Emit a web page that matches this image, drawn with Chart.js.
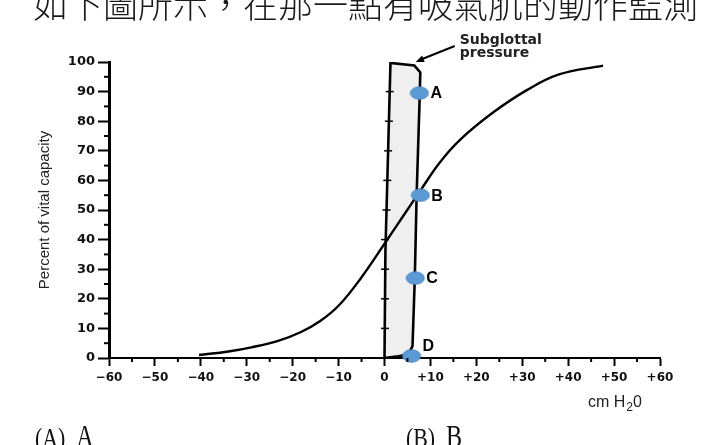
<!DOCTYPE html>
<html>
<head>
<meta charset="utf-8">
<script src="https://cdn.jsdelivr.net/npm/chart.js@4.4.0/dist/chart.umd.min.js"></script>
<style>
  html, body { margin: 0; padding: 0; background: #fff; }
  #wrap { position: relative; width: 707px; height: 445px; overflow: hidden; }
  #chart { position: absolute; left: 0; top: 0; }
  .question {
    position: absolute; left: 33px; top: -15px;
    font-family: "Noto Sans CJK TC", sans-serif; font-weight: 200;
    font-size: 35px; line-height: 35px; color: #1a1a1a; white-space: nowrap;
  }
  .option {
    position: absolute; top: 423px;
    font-family: "Liberation Serif", serif; font-size: 28px; line-height: 28px;
    color: #111; white-space: pre; transform: scaleX(0.78); transform-origin: 0 0;
  }
  .option span { font-size: 31px; margin-left: 14px; }
</style>
</head>
<body>
<div id="wrap">
  <canvas id="chart" width="707" height="445"></canvas>
  <div class="question">如下圖所示，在那一點有吸氣肌的動作監測</div>
  <div class="option" style="left:35px">(A)<span>A</span></div>
  <div class="option" style="left:406px">(B)<span>B</span></div>
</div>
<script>
// tick labels
const xTickLabels = ['−60', '−50', '−40', '−30', '−20', '−10', '0', '+10', '+20', '+30', '+40', '+50', '+60'];
const yTickLabels = ['0', '10', '20', '30', '40', '50', '60', '70', '80', '90', '100'];

// relaxation pressure curve (percent of vital capacity vs cm H2O)
const curveX = [-40.4, -34, -29, -23, -18.3, -14, -9.8, -5, 0, 4, 8, 12, 16.5, 23.7, 31, 38, 47.6];
const curveY = [1, 2.2, 3.6, 5.9, 8.7, 12.5, 18, 27.3, 38.6, 47.8, 57, 66, 73.8, 83, 90.5, 95.8, 98.8];

// subglottal pressure band outline
const bandX = [0, 0.2, 1.3, 6.5, 7.8, 7.6, 7.0, 6.6, 6.1, 5.2, 3, 0];
const bandY = [0, 36, 99.7, 98.8, 96.5, 85, 55, 27, 4, 1.2, 0.6, 0];

// marked points
const pointLabels = ['A', 'B', 'C', 'D'];
const pointX = [7.6, 7.8, 6.7, 5.9];
const pointY = [89.5, 55, 27, 0.7];

function toXY(xs, ys) {
    return xs.map((x, i) => ({ x: x, y: ys[i] }));
}

// blue ellipse marker
const dot = document.createElement('canvas');
dot.width = 20;
dot.height = 14;
const dctx = dot.getContext('2d');
dctx.beginPath();
dctx.ellipse(10, 7, 9, 6.2, 0, 0, Math.PI * 2);
dctx.fillStyle = '#5b9bd5';
dctx.fill();
dctx.lineWidth = 1;
dctx.strokeStyle = '#4a86c0';
dctx.stroke();

// minor ticks, marks on the zero line, point letters, notes and axis titles
const extras = {
    id: 'extras',
    afterDraw(chart) {
        const ctx = chart.ctx;
        const xs = chart.scales.x;
        const ys = chart.scales.y;
        const area = chart.chartArea;
        ctx.save();
        ctx.strokeStyle = '#000';
        ctx.lineWidth = 2;

        // minor ticks
        for (let v = -55; v < 60; v += 10) {
            const px = xs.getPixelForValue(v);
            ctx.beginPath();
            ctx.moveTo(px, area.bottom);
            ctx.lineTo(px, area.bottom + 4);
            ctx.stroke();
        }
        for (let v = 5; v < 100; v += 10) {
            const py = ys.getPixelForValue(v);
            ctx.beginPath();
            ctx.moveTo(area.left, py);
            ctx.lineTo(area.left - 5, py);
            ctx.stroke();
        }

        // small ticks on the left edge of the band
        ctx.lineWidth = 1.5;
        for (let v = 10; v < 100; v += 10) {
            const py = ys.getPixelForValue(v);
            const px = xs.getPixelForValue(v > 40 ? (v - 36) / 64 * 1.1 + 0.2 : 0.1);
            ctx.beginPath();
            ctx.moveTo(px - 4, py);
            ctx.lineTo(px + 4, py);
            ctx.stroke();
        }

        // letters next to the points
        ctx.fillStyle = '#000';
        ctx.font = 'bold 16px "Liberation Sans", Arial, sans-serif';
        ctx.textAlign = 'left';
        ctx.textBaseline = 'middle';
        pointLabels.forEach((t, i) => {
            const px = xs.getPixelForValue(pointX[i]);
            let py = ys.getPixelForValue(pointY[i]);
            if (i === pointLabels.length - 1) py -= 10;
            ctx.fillText(t, px + 11, py + 1);
        });

        // Subglottal pressure note with arrow
        const tipX = xs.getPixelForValue(6.8);
        const tipY = ys.getPixelForValue(100);
        const tailX = tipX + 39;
        const tailY = tipY - 16;
        ctx.lineWidth = 2;
        ctx.beginPath();
        ctx.moveTo(tailX, tailY);
        ctx.lineTo(tipX + 4, tipY - 2);
        ctx.stroke();
        const ang = Math.atan2(tipY - tailY, tipX - tailX);
        ctx.beginPath();
        ctx.moveTo(tipX, tipY);
        ctx.lineTo(tipX - 9 * Math.cos(ang - 0.4), tipY - 9 * Math.sin(ang - 0.4));
        ctx.lineTo(tipX - 9 * Math.cos(ang + 0.4), tipY - 9 * Math.sin(ang + 0.4));
        ctx.closePath();
        ctx.fill();
        ctx.font = 'bold 14px "DejaVu Sans", sans-serif';
        ctx.fillStyle = '#222';
        ctx.fillText('Subglottal', tailX + 5, tailY - 6);
        ctx.fillText('pressure', tailX + 5, tailY + 7);

        // x axis title: cm H2O with subscript
        ctx.font = '16px "Liberation Sans", Arial, sans-serif';
        ctx.textBaseline = 'alphabetic';
        const baseY = area.bottom + 49;
        let tx = area.right - 72;
        ctx.fillText('cm H', tx, baseY);
        tx += ctx.measureText('cm H').width;
        ctx.font = '12px "Liberation Sans", Arial, sans-serif';
        ctx.fillText('2', tx + 1, baseY + 4);
        tx += ctx.measureText('2').width + 1;
        ctx.font = '16px "Liberation Sans", Arial, sans-serif';
        ctx.fillText('0', tx, baseY);

        // y axis title
        ctx.translate(45, (area.top + area.bottom) / 2);
        ctx.rotate(-Math.PI / 2);
        ctx.font = '15px "Liberation Sans Narrow", "Arial Narrow", sans-serif';
        ctx.textAlign = 'center';
        ctx.textBaseline = 'middle';
        ctx.fillText('Percent of vital capacity', 0, 0);
        ctx.restore();
    }
};

const ctx = document.getElementById('chart').getContext('2d');
new Chart(ctx, {
    type: 'scatter',
    data: {
        datasets: [{
            label: 'Points',
            data: toXY(pointX, pointY),
            pointStyle: dot,
            pointRadius: 8,
            clip: false,
            order: 0
        }, {
            label: 'Relaxation curve',
            data: toXY(curveX, curveY),
            showLine: true,
            borderColor: '#000',
            borderWidth: 2.4,
            pointRadius: 0,
            tension: 0.4,
            fill: false,
            order: 1
        }, {
            label: 'Subglottal pressure',
            data: toXY(bandX, bandY),
            showLine: true,
            borderColor: '#000',
            borderWidth: 2.6,
            backgroundColor: '#efefef',
            pointRadius: 0,
            tension: 0,
            fill: 'shape',
            order: 2
        }]
    },
    options: {
        responsive: false,
        animation: false,
        layout: {
            padding: { top: 62, right: 47, left: 0, bottom: 0 }
        },
        plugins: {
            legend: { display: false },
            tooltip: { enabled: false }
        },
        scales: {
            x: {
                type: 'linear',
                min: -60,
                max: 60,
                afterFit: s => { s.height = 87; },
                ticks: {
                    stepSize: 10,
                    autoSkip: false,
                    maxRotation: 0,
                    padding: 5,
                    color: '#111',
                    font: { family: '"DejaVu Sans", sans-serif', size: 12, weight: 'bold' },
                    callback: (v, i) => xTickLabels[i]
                },
                grid: {
                    drawOnChartArea: false,
                    tickLength: 8,
                    tickWidth: 2,
                    tickColor: '#000'
                },
                border: { color: '#000', width: 2 }
            },
            y: {
                min: 0,
                max: 100,
                afterFit: s => { s.width = 109; },
                ticks: {
                    stepSize: 10,
                    autoSkip: false,
                    padding: 3,
                    color: '#111',
                    font: { family: '"DejaVu Sans", sans-serif', size: 13, weight: 'bold' },
                    callback: (v, i) => yTickLabels[i]
                },
                grid: {
                    drawOnChartArea: false,
                    tickLength: 11,
                    tickWidth: 2,
                    tickColor: '#000'
                },
                border: { color: '#000', width: 3 }
            }
        }
    },
    plugins: [extras]
});
</script>
</body>
</html>
